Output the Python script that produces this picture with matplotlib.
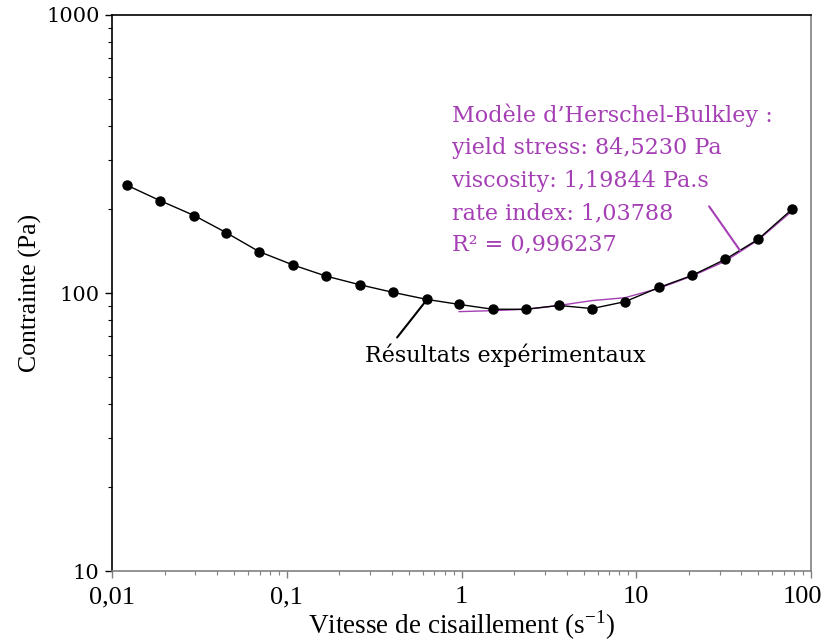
import matplotlib
matplotlib.use("Agg")
import matplotlib.pyplot as plt
from matplotlib.transforms import ScaledTranslation
from matplotlib.ticker import FixedLocator, FixedFormatter, LogLocator, NullFormatter

# experimental data (shear rate, stress)
shear_rate = [0.0122, 0.0188, 0.0295, 0.0449, 0.0693, 0.109, 0.168, 0.263, 0.406, 0.635,
              0.968, 1.51, 2.34, 3.61, 5.58, 8.63, 13.5, 20.8, 32.2, 49.8, 77.8]
stress = [244, 215, 190, 165, 141, 126, 115, 107, 100.5, 94.8,
          91.0, 87.4, 87.4, 90.2, 87.9, 93.1, 104.7, 115.6, 132, 156, 200]

# Herschel-Bulkley model curve
model_rate = [0.968, 1.51, 2.34, 3.61, 5.58, 8.63, 13.5, 20.8, 32.2, 49.8, 77.8]
model_stress = [85.7, 86.4, 87.4, 90.2, 93.9, 96.2, 104, 115, 130, 155, 197]

model_lines = ["Modèle d\u2019Herschel-Bulkley :",
               "yield stress: 84,5230 Pa",
               "viscosity: 1,19844 Pa.s",
               "rate index: 1,03788",
               "R\u00b2 = 0,996237"]

x_ticks = [0.01, 0.1, 1, 10, 100]
x_labels = ["0,01", "0,1", "1", "10", "100"]
y_ticks = [10, 100, 1000]
y_labels = ["10", "100", "1000"]

purple = "#A43FB4"
grey = "#808080"

fig = plt.figure(figsize=(8.28, 6.41), dpi=100)
ax = fig.add_axes([0.1353, 0.1092, 0.8442, 0.8674])

ax.plot(model_rate, model_stress, color=purple, lw=1.0, zorder=2)
ax.plot(shear_rate, stress, color="black", lw=1.0, marker="o", ms=6.5, zorder=3)

ax.set_xscale("log")
ax.set_yscale("log")
ax.set_xlim(0.01, 100)
ax.set_ylim(10, 1000)

ax.xaxis.set_major_locator(FixedLocator(x_ticks))
ax.xaxis.set_major_formatter(FixedFormatter(x_labels))
ax.yaxis.set_major_locator(FixedLocator(y_ticks))
ax.yaxis.set_major_formatter(FixedFormatter(y_labels))
ax.xaxis.set_minor_locator(LogLocator(base=10, subs=range(2, 10)))
ax.yaxis.set_minor_locator(LogLocator(base=10, subs=range(2, 10)))
ax.xaxis.set_minor_formatter(NullFormatter())
ax.yaxis.set_minor_formatter(NullFormatter())

ax.tick_params(axis="y", which="major", length=5, width=1, color="black", pad=4)
ax.tick_params(axis="y", which="minor", length=3, width=0.8, color="black")
ax.tick_params(axis="x", which="major", length=5, width=1, color=grey, pad=6)
ax.tick_params(axis="x", which="minor", length=3, width=0.8, color=grey)

for lab in ax.get_yticklabels():
    lab.set_fontfamily("DejaVu Serif")
    lab.set_fontsize(15)
xlabs = ax.get_xticklabels()
for lab in xlabs:
    lab.set_fontfamily("Liberation Serif")
    lab.set_fontsize(19)
# last label sits a little to the left so it stays inside the figure
xlabs[-1].set_transform(xlabs[-1].get_transform() + ScaledTranslation(-6 / 72, 0, fig.dpi_scale_trans))

ax.spines["left"].set_color("black")
ax.spines["top"].set_color("black")
ax.spines["right"].set_color(grey)
ax.spines["bottom"].set_color(grey)
for s in ax.spines.values():
    s.set_linewidth(1.2)

ax.set_xlabel("Vitesse de cisaillement (s$^{\\mathregular{-1}}$)", fontfamily="Liberation Serif",
              fontsize=19.5, labelpad=0)
ax.set_ylabel("Contrainte (Pa)", fontfamily="Liberation Serif", fontsize=18.5, labelpad=3)

# annotation for experimental results
ax.annotate("", xy=(0.635, 94.8), xytext=(0.428, 69.2),
            arrowprops=dict(arrowstyle="-", color="black", lw=1.5, shrinkA=0, shrinkB=0))
ax.text(0.2805, 59.5, "Résultats expérimentaux", ha="left", va="center",
        fontfamily="DejaVu Serif", fontsize=16)

# model parameters block
line_y = [0.8198, 0.7604, 0.7009, 0.6432, 0.5874]
for txt, yy in zip(model_lines, line_y):
    ax.text(0.4864, yy, txt, transform=ax.transAxes, color=purple, fontfamily="DejaVu Serif",
            fontsize=16, ha="left", va="center")
ax.annotate("", xy=(39.3, 142), xytext=(26.1, 205),
            arrowprops=dict(arrowstyle="-", color=purple, lw=1.5, shrinkA=0, shrinkB=0))

fig.savefig("out.png", dpi=100)
